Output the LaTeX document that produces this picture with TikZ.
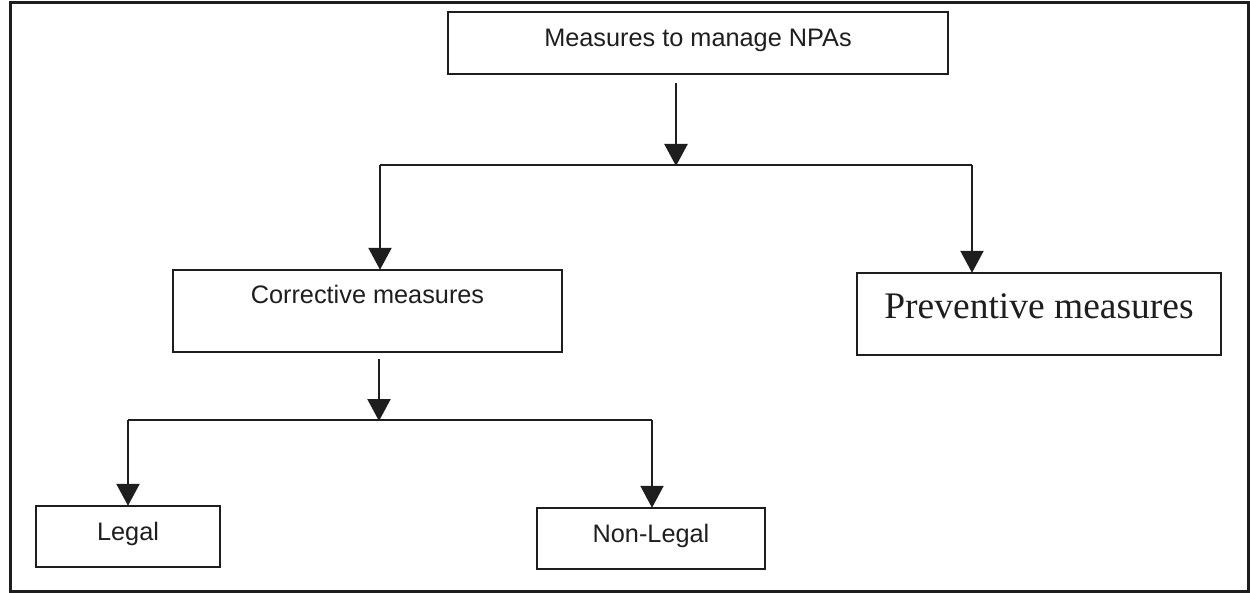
\documentclass[tikz,border=0pt]{standalone}
\usepackage{fontspec}
\setmainfont{Liberation Sans}
\newfontfamily\serifface{Liberation Serif}
\usetikzlibrary{arrows.meta}
\definecolor{ink}{HTML}{1E1E1E}
\begin{document}
\begin{tikzpicture}[x=1pt,y=-1pt,
  boxnode/.style={draw=ink, line width=2.4pt, rectangle, inner sep=0pt, text=ink,
    font=\fontsize{25.3}{30}\selectfont, text height=18pt},
  conn/.style={draw=ink, line width=2.3pt},
  arr/.style={conn, -{Triangle[width=23pt,length=22pt]}, shorten >=-1pt}
]
\useasboundingbox (0,0) rectangle (1250,593);
\draw[ink, line width=3pt] (10,3) rectangle (1248,591);

\node[boxnode, minimum width=500pt, minimum height=62pt, text depth=10pt] (top) at (698,43) {Measures to manage NPAs};
\node[boxnode, minimum width=389pt, minimum height=82pt, text depth=32pt] (corr) at (367.5,311) {Corrective measures};
\node[boxnode, minimum width=364pt, minimum height=82pt, text height=24pt, text depth=14pt,
      font=\serifface\fontsize{37.5}{42}\selectfont] (prev) at (1039,314) {Preventive measures};
\node[boxnode, minimum width=184pt, minimum height=61pt, text depth=11pt] (legal) at (128,536.5) {Legal};
\node[boxnode, minimum width=228pt, minimum height=61pt, text depth=11pt] (nonlegal) at (651,538.5) {Non-Legal};

\coordinate (j1) at (676,165);
\coordinate (jl) at (380,165);
\coordinate (jr) at (972,165);
\coordinate (j2) at (379,420);
\coordinate (jl2) at (128,420);
\coordinate (jr2) at (652,420);

\draw[arr] ([yshift=-8pt]top.south -| j1) -- (j1);
\draw[conn] (jl) -- (jr);
\draw[arr] (jl) -- (jl |- corr.north);
\draw[arr] (jr) -- (jr |- prev.north);

\draw[arr] ([yshift=-6pt]corr.south -| j2) -- (j2);
\draw[conn] (jl2) -- (jr2);
\draw[arr] (jl2) -- (jl2 |- legal.north);
\draw[arr] (jr2) -- (jr2 |- nonlegal.north);
\end{tikzpicture}
\end{document}
